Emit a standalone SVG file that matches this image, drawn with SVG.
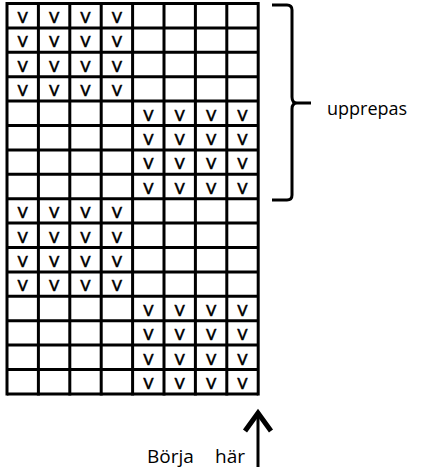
<svg xmlns="http://www.w3.org/2000/svg" width="436" height="471" viewBox="0 0 436 471">
<style>
.g{stroke:#000;stroke-width:3;fill:none}
.v{font-family:Lato,"Open Sans",sans-serif;font-size:21px;text-anchor:middle;fill:#000;stroke:#000;stroke-width:0.3}
.lbl{font-family:"Open Sans","Liberation Sans",sans-serif;font-size:19px;fill:#000}
</style>
<rect width="436" height="471" fill="#fff"/>
<g id="grid" class="g">
<path d="M7,3.5H258.2M7,27.9H258.2M7,52.3H258.2M7,76.7H258.2M7,101.1H258.2M7,125.5H258.2M7,149.9H258.2M7,174.3H258.2M7,198.7H258.2M7,223.1H258.2M7,247.5H258.2M7,271.9H258.2M7,296.3H258.2M7,320.7H258.2M7,345.1H258.2M7,369.5H258.2M7,393.9H258.2"/>
<path d="M7,2V395.4M38.4,2V395.4M69.8,2V395.4M101.2,2V395.4M132.6,2V395.4M164,2V395.4M195.4,2V395.4M226.8,2V395.4M258.2,2V395.4"/>
</g>
<g id="marks" class="v">
<text x="22.7" y="23">v</text><text x="54.1" y="23">v</text><text x="85.5" y="23">v</text><text x="116.9" y="23">v</text>
<text x="22.7" y="47.4">v</text><text x="54.1" y="47.4">v</text><text x="85.5" y="47.4">v</text><text x="116.9" y="47.4">v</text>
<text x="22.7" y="71.8">v</text><text x="54.1" y="71.8">v</text><text x="85.5" y="71.8">v</text><text x="116.9" y="71.8">v</text>
<text x="22.7" y="96.2">v</text><text x="54.1" y="96.2">v</text><text x="85.5" y="96.2">v</text><text x="116.9" y="96.2">v</text>
<text x="148.3" y="120.6">v</text><text x="179.7" y="120.6">v</text><text x="211.1" y="120.6">v</text><text x="242.5" y="120.6">v</text>
<text x="148.3" y="145">v</text><text x="179.7" y="145">v</text><text x="211.1" y="145">v</text><text x="242.5" y="145">v</text>
<text x="148.3" y="169.4">v</text><text x="179.7" y="169.4">v</text><text x="211.1" y="169.4">v</text><text x="242.5" y="169.4">v</text>
<text x="148.3" y="193.8">v</text><text x="179.7" y="193.8">v</text><text x="211.1" y="193.8">v</text><text x="242.5" y="193.8">v</text>
<text x="22.7" y="218.2">v</text><text x="54.1" y="218.2">v</text><text x="85.5" y="218.2">v</text><text x="116.9" y="218.2">v</text>
<text x="22.7" y="242.6">v</text><text x="54.1" y="242.6">v</text><text x="85.5" y="242.6">v</text><text x="116.9" y="242.6">v</text>
<text x="22.7" y="267">v</text><text x="54.1" y="267">v</text><text x="85.5" y="267">v</text><text x="116.9" y="267">v</text>
<text x="22.7" y="291.4">v</text><text x="54.1" y="291.4">v</text><text x="85.5" y="291.4">v</text><text x="116.9" y="291.4">v</text>
<text x="148.3" y="315.8">v</text><text x="179.7" y="315.8">v</text><text x="211.1" y="315.8">v</text><text x="242.5" y="315.8">v</text>
<text x="148.3" y="340.2">v</text><text x="179.7" y="340.2">v</text><text x="211.1" y="340.2">v</text><text x="242.5" y="340.2">v</text>
<text x="148.3" y="364.6">v</text><text x="179.7" y="364.6">v</text><text x="211.1" y="364.6">v</text><text x="242.5" y="364.6">v</text>
<text x="148.3" y="389">v</text><text x="179.7" y="389">v</text><text x="211.1" y="389">v</text><text x="242.5" y="389">v</text>
</g>
<g id="bracket">
<path class="g" d="M272,5H287Q292,5 292,10V97Q292,103 297,103H311M297,103Q292,103 292,109V195Q292,200 287,200H272"/>
<text class="lbl" x="327" y="115" style="font-size:18px">upprepas</text>
</g>
<g id="start">
<path class="g" d="M258,467V416"/>
<path d="M245,431L258,413L271,431" stroke="#000" stroke-width="5" fill="none"/>
<text class="lbl" x="147" y="463">Börja <tspan x="215">här</tspan></text>
</g>
</svg>
